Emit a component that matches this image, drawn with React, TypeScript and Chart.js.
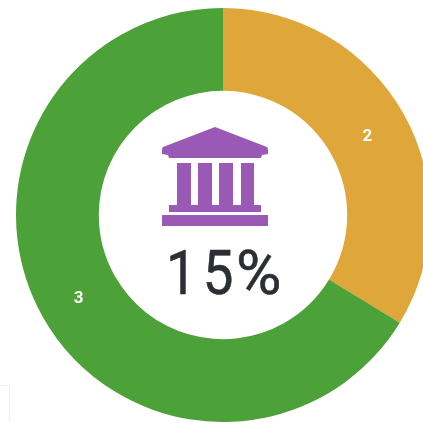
import React, { useEffect, useRef } from "react";
import { Chart, registerables } from "chart.js";

Chart.register(...registerables);

const categories = ["A", "B"];
const values = [1.5, 2.95];
const colors = ["#dfa63a", "#4ca138"];
const centerNumber = "15";
const centerUnit = "%";

const sliceLabels = {
  id: "sliceLabels",
  afterDatasetsDraw(chart: any) {
    const { ctx } = chart;
    const meta = chart.getDatasetMeta(0);
    ctx.save();
    ctx.fillStyle = "#ffffff";
    ctx.font = "bold 17px Roboto";
    ctx.textAlign = "center";
    ctx.textBaseline = "middle";
    meta.data.forEach((arc: any, i: number) => {
      const p = arc.tooltipPosition();
      ctx.fillText(String(Math.round(values[i] + 0.001)), p.x, p.y + 3);
    });
    ctx.restore();
  },
};

const textStyle: React.CSSProperties = {
  position: "absolute",
  top: 238,
  font: "400 62px/70px Roboto",
  color: "#2b2f33",
  whiteSpace: "nowrap",
  transformOrigin: "0 0",
  WebkitTextStroke: "0.6px #2b2f33",
};

export default function App() {
  const ref = useRef<HTMLCanvasElement>(null);
  useEffect(() => {
    const chart = new Chart(ref.current!, {
      type: "doughnut",
      data: {
        labels: categories,
        datasets: [{ data: values, backgroundColor: colors, borderWidth: 0 }],
      },
      options: {
        responsive: false,
        animation: false,
        cutout: "60%",
        layout: { padding: 0 },
        plugins: { legend: { display: false }, tooltip: { enabled: false } },
      },
      plugins: [sliceLabels],
    });
    return () => chart.destroy();
  }, []);

  return (
    <div style={{ position: "fixed", left: 0, top: 0, width: 423, height: 422, overflow: "hidden", background: "#fff" }}>
      <div style={{ position: "absolute", left: -10, top: 385, width: 18, height: 60, border: "1px solid #f0f0f0" }} />
      <canvas ref={ref} width={414} height={414} style={{ position: "absolute", left: 16, top: 8, width: 414, height: 414 }} />
      <svg width={423} height={422} style={{ position: "absolute", left: 0, top: 0 }}>
        <g fill="#9b59b6">
          <path d="M215 127 L267 147 Q268 148 268 150 L268 154 L262 155 L261 158 L169 158 L168 155 L162 154 L162 150 Q162 148 163 147 Z" />
          <rect x={177} y={163} width={14} height={42} />
          <rect x={198} y={163} width={14} height={42} />
          <rect x={219} y={163} width={14} height={42} />
          <rect x={241} y={163} width={13} height={42} />
          <rect x={169} y={205} width={92} height={7} />
          <rect x={162} y={215} width={106} height={11} />
        </g>
      </svg>
      <div style={{ ...textStyle, left: 166, letterSpacing: 7, transform: "scaleX(0.88)" }}>{centerNumber}</div>
      <div style={{ ...textStyle, left: 236 }}>{centerUnit}</div>
    </div>
  );
}
